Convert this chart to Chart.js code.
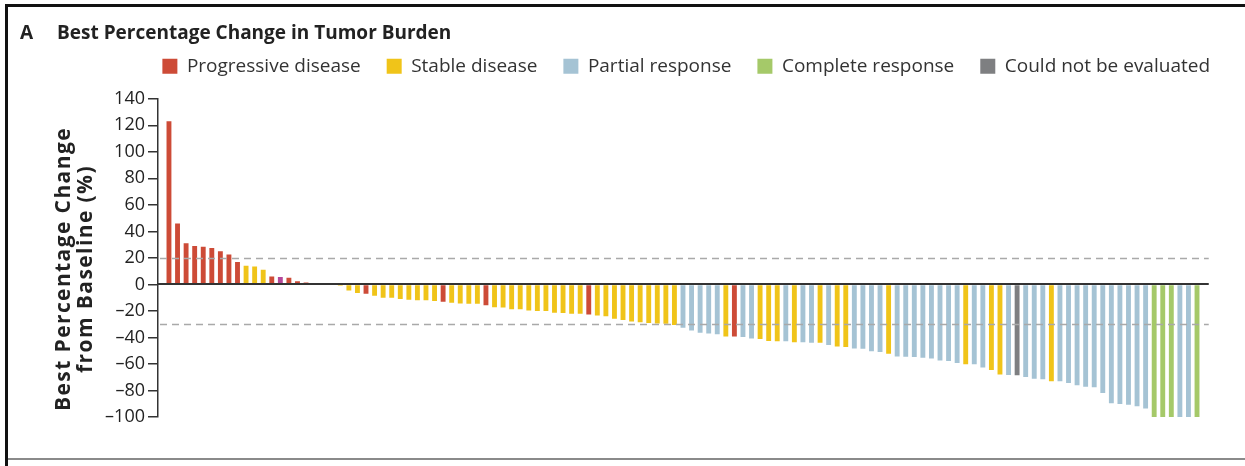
<!DOCTYPE html>
<html>
<head>
<meta charset="utf-8">
<script src="https://cdn.jsdelivr.net/npm/chart.js@4.4.1/dist/chart.umd.min.js"></script>
<style>
  html, body { margin: 0; padding: 0; background: #fff; }
  #wrap { position: relative; width: 1245px; height: 466px; overflow: hidden; }
  #frame { position: absolute; left: 5px; top: 4px; right: 0; bottom: 0;
           border-left: 3px solid #111; border-top: 3px solid #111; }
  #rule { position: absolute; left: 8px; right: 0; top: 458px; height: 2px; background: #8a8a8a; }
  canvas { position: absolute; left: 0; top: 0; }
</style>
</head>
<body>
<div id="wrap">
  <div id="frame"></div>
  <div id="rule"></div>
  <canvas id="c" width="1245" height="466"></canvas>
</div>
<script>
// Best percentage change from baseline, one value per patient (sorted waterfall order)
const values = [
  123, 46, 31, 29, 28.5, 27.5, 25, 22.5, 17, 14,
  13.5, 11, 6, 5.5, 5, 2.3, 1.5, 0, 0, 0,
  -1, -4.5, -6.5, -7, -8.5, -10, -10, -11, -11.5, -12,
  -12, -12.5, -13, -13.8, -14.3, -14.5, -14.5, -15.8, -17.3, -17.5,
  -18.7, -18.8, -19.6, -20.1, -20.1, -21.3, -21.6, -22.1, -22.1, -22.6,
  -23.4, -24.1, -25.9, -26.9, -27.9, -28.6, -29.1, -29.4, -29.6, -30.6,
  -32.6, -34.7, -36.4, -37, -37.5, -39.2, -39.2, -39.7, -40.7, -41.2,
  -42.7, -42.9, -42.9, -43.7, -43.7, -44, -44, -45.7, -46.9, -47.2,
  -48.3, -48.5, -50.5, -51, -52.3, -54.3, -54.5, -54.8, -55.3, -55.8,
  -57.3, -57.8, -59.3, -60.3, -60.3, -62.6, -64.6, -68, -68.3, -68.5,
  -69.8, -71.1, -71.6, -73.1, -73, -74.3, -76.1, -77.1, -77.6, -81.9,
  -89.7, -90.2, -90.7, -91.9, -93.6, -100, -100, -100, -100, -100,
  -100
];

// Best overall response for each patient, same order as values
const responses = [
  'PD','PD','PD','PD','PD','PD','PD','PD','PD','SD',
  'SD','SD','PD','PDX','PD','PD','PD','SD','SD','SD',
  'SD','SD','SD','PD','SD','SD','SD','SD','SD','SD',
  'SD','SD','PD','SD','SD','SD','SD','PD','SD','SD',
  'SD','SD','SD','SD','SD','SD','SD','SD','SD','PD',
  'SD','SD','SD','SD','SD','SD','SD','SD','SD','SD',
  'PR','PR','PR','PR','PR','SD','PD','PR','PR','SD',
  'SD','SD','PR','SD','PR','PR','SD','PR','SD','SD',
  'PR','PR','PR','PR','SD','PR','PR','PR','PR','PR',
  'PR','PR','PR','SD','PR','PR','SD','SD','PR','NE',
  'PR','PR','PR','SD','PR','PR','PR','PR','PR','PR',
  'PR','PR','PR','PR','PR','CR','CR','CR','PR','PR',
  'CR'
];

const responseCodes  = ['PD', 'SD', 'PR', 'CR', 'NE', 'PDX'];
const responseLabels = ['Progressive disease', 'Stable disease', 'Partial response',
                        'Complete response', 'Could not be evaluated', 'Progressive disease'];
const responseColors = ['#cd4b37', '#f0c419', '#a5c3d4', '#a5c969', '#7e7f81', '#b5489a'];

const yRange = { min: -100, max: 140, step: 20 };
const thresholdLines = [20, -30];
// Patient axis: plot spans a little past the first and last patient
const patientAxis = { min: -0.28, max: 125.55, baselineEnd: 122.37 };

const datasets = responseCodes.map((code, k) => ({
  label: responseLabels[k],
  backgroundColor: responseColors[k],
  data: values
    .map((v, i) => ({ x: i + 1, y: v, r: responses[i] }))
    .filter(p => p.r === code)
    .map(p => ({ x: p.x, y: p.y })),
  grouped: false,
  categoryPercentage: 1,
  barPercentage: 0.57
}));

// Dashed threshold lines and the solid zero baseline
const referenceLinesPlugin = {
  id: 'referenceLines',
  afterDatasetsDraw(chart) {
    const { ctx, chartArea, scales: { x, y } } = chart;
    const xEnd = x.getPixelForValue(patientAxis.baselineEnd);
    ctx.save();
    ctx.strokeStyle = '#a9a9a9';
    ctx.lineWidth = 1.5;
    ctx.setLineDash([7, 5]);
    thresholdLines.forEach(v => {
      const py = Math.round(y.getPixelForValue(v)) + 0.5;
      ctx.beginPath();
      ctx.moveTo(chartArea.left + 2, py);
      ctx.lineTo(xEnd, py);
      ctx.stroke();
    });
    ctx.setLineDash([]);
    ctx.strokeStyle = '#333';
    ctx.lineWidth = 2;
    const y0 = Math.round(y.getPixelForValue(0));
    ctx.beginPath();
    ctx.moveTo(chartArea.left, y0);
    ctx.lineTo(xEnd, y0);
    ctx.stroke();
    ctx.restore();
  }
};

// Two-line rotated y-axis title
const yTitlePlugin = {
  id: 'yTitle',
  afterDraw(chart) {
    const { ctx } = chart;
    ctx.save();
    ctx.translate(64, 269);
    ctx.rotate(-Math.PI / 2);
    ctx.fillStyle = '#222';
    ctx.font = 'bold 21px "Open Sans"';
    ctx.letterSpacing = '1.4px';
    ctx.textAlign = 'center';
    ctx.textBaseline = 'middle';
    ctx.fillText('Best Percentage Change', 0, 0);
    ctx.fillText('from Baseline (%)', 0, 22);
    ctx.restore();
  }
};

new Chart(document.getElementById('c'), {
  type: 'bar',
  data: { datasets },
  plugins: [referenceLinesPlugin, yTitlePlugin],
  options: {
    responsive: false,
    animation: false,
    devicePixelRatio: 1,
    layout: { padding: { left: 20, right: 9, top: 0, bottom: 49 } },
    plugins: {
      title: {
        display: true,
        text: 'A\u2003 Best Percentage Change in Tumor Burden',
        align: 'start',
        color: '#222',
        font: { family: 'Open Sans', size: 19, weight: 'bold' },
        padding: { top: 22, bottom: -14 }
      },
      subtitle: {
        display: true,
        text: '',
        weight: 500,
        font: { size: 10, lineHeight: 1 },
        padding: { top: 0, bottom: 3 }
      },
      legend: {
        display: true,
        position: 'top',
        align: 'end',
        labels: {
          filter: item => item.datasetIndex < 5,
          boxWidth: 15,
          boxHeight: 15,
          color: '#333',
          padding: 26,
          font: { family: 'Open Sans', size: 19 }
        }
      },
      tooltip: { enabled: false }
    },
    scales: {
      x: {
        type: 'linear',
        min: patientAxis.min,
        max: patientAxis.max,
        offset: false,
        display: false
      },
      y: {
        min: yRange.min,
        max: yRange.max,
        ticks: {
          stepSize: yRange.step,
          color: '#222',
          padding: 3,
          font: { family: 'Open Sans', size: 18 },
          callback: v => (v < 0 ? '\u2013' + Math.abs(v) : String(v))
        },
        grid: {
          drawOnChartArea: false,
          drawTicks: true,
          tickLength: 10,
          color: '#333',
          lineWidth: 1.5
        },
        border: { color: '#333', width: 1.5 },
        afterFit(scale) { scale.width = 138; }
      }
    }
  }
});
</script>
</body>
</html>
